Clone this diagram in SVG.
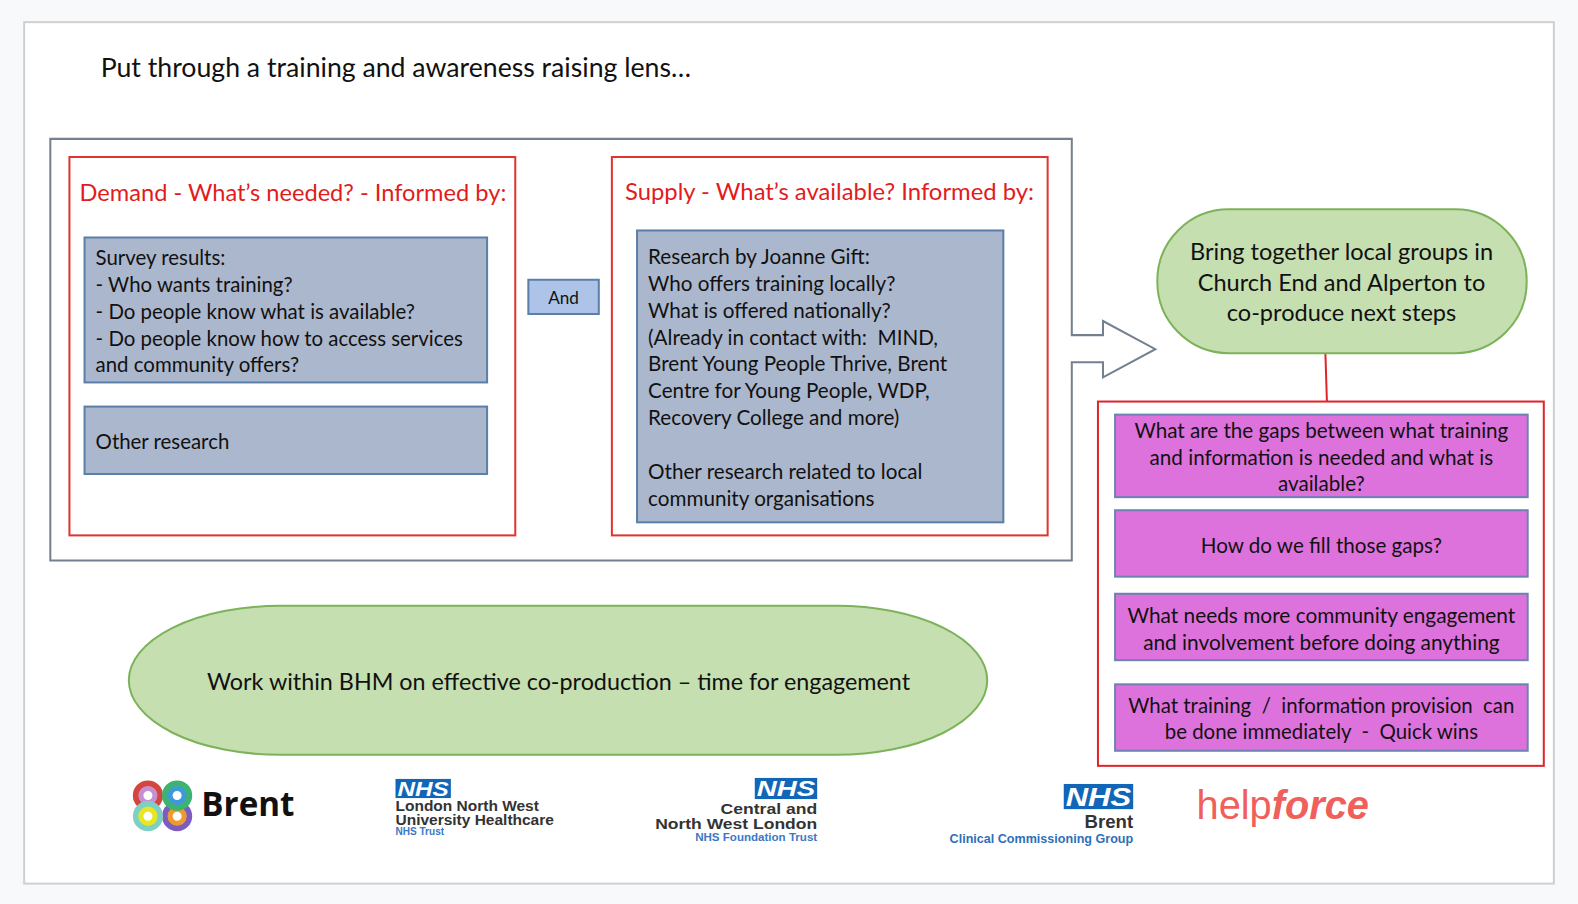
<svg xmlns="http://www.w3.org/2000/svg" width="1578" height="904" viewBox="0 0 1578 904">
<style>
text{font-family:"Lato","Open Sans","Liberation Sans",sans-serif;fill:#111;font-size:20.500px;white-space:pre}
.c{text-anchor:middle}
.e{text-anchor:end}
.red{fill:#e21c1c;font-size:23.700px}
.s{font-size:20.300px}
.q{font-size:20.500px}
.frame{fill:#fff;stroke:#e0342f;stroke-width:2}
.blue{fill:#abb7cd;stroke:#5b7fa8;stroke-width:2}
.pink{fill:#dd72dd;stroke:#6f81b0;stroke-width:2}
.green{fill:#c5dfb0;stroke:#7cb35a;stroke-width:2}
.nhs{fill:#1166b8}
.nt{fill:#fff;font-weight:900;font-style:italic;font-family:"Liberation Sans",sans-serif}
.lg{font-family:"Liberation Sans",sans-serif;font-weight:700;fill:#333}
.lb{font-family:"Liberation Sans",sans-serif;font-weight:700;fill:#3b78c4}
</style>
<rect width="1578" height="904" fill="#f8f9fa"/>
<g transform="scale(1.00638)">
<rect x="24" y="22" width="1520" height="856" fill="#fff" stroke="#d0d0d0" stroke-width="2"/>
<text id="title" x="100" y="77" style="font-size:26.500px">Put through a training and awareness raising lens…</text>

<g id="connectors">
<path d="M1317 351L1318.500 399" fill="none" stroke="#e0242a" stroke-width="2"/>
</g>

<g id="outer">
<path d="M1065 333V138H50V557H1065V360H1096V375L1148 347L1096 319V333Z" fill="#fff" stroke="#74808f" stroke-width="2"/>
</g>

<g id="demand">
<rect class="frame" x="69" y="156" width="443" height="376"/>
<text class="red" x="79" y="200" style="font-size:23.500px">Demand - What’s needed? - Informed by:</text>
</g>
<g id="survey">
<rect class="blue" x="84" y="236" width="400" height="144"/>
<text class="s" x="95" y="263">Survey results:</text>
<text class="s" x="95" y="290">- Who wants training?</text>
<text class="s" x="95" y="317">- Do people know what is available?</text>
<text class="s" x="95" y="344">- Do people know how to access services</text>
<text class="s" x="95" y="370">and community offers?</text>
</g>
<g id="other-research">
<rect class="blue" x="84" y="404" width="400" height="67"/>
<text class="s" x="95" y="446">Other research</text>
</g>
<g id="and">
<rect x="525" y="278" width="70" height="34" fill="#aec3e8" stroke="#5b7fa8" stroke-width="2"/>
<text class="c" x="560" y="302" style="font-size:17px">And</text>
</g>
<g id="supply">
<rect class="frame" x="608" y="156" width="433" height="376"/>
<text class="red" x="621" y="199">Supply - What’s available? Informed by:</text>
</g>
<g id="research">
<rect class="blue" x="633" y="229" width="364" height="290"/>
<text x="644" y="262">Research by Joanne Gift:</text>
<text x="644" y="289">Who offers training locally?</text>
<text x="644" y="316">What is offered nationally?</text>
<text x="644" y="343">(Already in contact with:  MIND,</text>
<text x="644" y="369">Brent Young People Thrive, Brent</text>
<text x="644" y="395">Centre for Young People, WDP,</text>
<text x="644" y="422">Recovery College and more)</text>
<text x="644" y="476">Other research related to local</text>
<text x="644" y="503">community organisations</text>
</g>
<g id="bring-together">
<rect class="green" x="1150" y="208" width="367" height="143" rx="71" ry="71"/>
<text class="c" x="1333" y="258" style="font-size:23.400px">Bring together local groups in</text>
<text class="c" x="1333" y="289" style="font-size:23.400px">Church End and Alperton to</text>
<text class="c" x="1333" y="319" style="font-size:23.400px">co-produce next steps</text>
</g>
<g id="questions">
<rect x="1091" y="399" width="443" height="362" fill="#fff" stroke="#e0242a" stroke-width="2"/>
</g>
<g id="q1">
<rect class="pink" x="1108" y="412" width="410" height="82"/>
<text class="c q" x="1313" y="435">What are the gaps between what training</text>
<text class="c q" x="1313" y="462">and information is needed and what is</text>
<text class="c q" x="1313" y="488">available?</text>
</g>
<g id="q2">
<rect class="pink" x="1108" y="507" width="410" height="66"/>
<text class="c q" x="1313" y="549">How do we fill those gaps?</text>
</g>
<g id="q3">
<rect class="pink" x="1108" y="590" width="410" height="66"/>
<text class="c" x="1313" y="619" style="font-size:20.700px">What needs more community engagement</text>
<text class="c" x="1313" y="646" style="font-size:20.700px">and involvement before doing anything</text>
</g>
<g id="q4">
<rect class="pink" x="1108" y="680" width="410" height="66"/>
<text class="c" x="1313" y="708" style="font-size:20.300px">What training  /  information provision  can</text>
<text class="c" x="1313" y="734" style="font-size:20.300px">be done immediately  -  Quick wins</text>
</g>
<g id="work-within">
<rect class="green" x="128" y="602" width="853" height="148" rx="150" ry="74"/>
<text class="c" x="555" y="686" style="font-size:23.200px">Work within BHM on effective co-production – time for engagement</text>
</g>

<g id="logo-brent">
<g fill="none">
<circle cx="176" cy="811" r="12" stroke="#7c5cc0" stroke-width="6"/>
<circle cx="176" cy="811" r="7" stroke="#ef9a2e" stroke-width="5"/>
<circle cx="147" cy="790.500" r="12" stroke="#d4453d" stroke-width="6"/>
<circle cx="147" cy="790.500" r="7" stroke="#c58fd0" stroke-width="5"/>
<circle cx="176" cy="790.500" r="12" stroke="#3cb371" stroke-width="6"/>
<circle cx="176" cy="790.500" r="7" stroke="#3d9ad6" stroke-width="5"/>
<circle cx="147" cy="811" r="12" stroke="#7fd0c4" stroke-width="6"/>
<circle cx="147" cy="811" r="7" stroke="#e8e620" stroke-width="5"/>
</g>
<text x="200" y="811" style="font-family:'Open Sans','Liberation Sans',sans-serif;font-weight:700;font-size:33px;fill:#111">Brent</text>
</g>
<g id="logo-lnwh">
<rect class="nhs" x="393" y="774" width="55" height="19"/>
<text class="nt" x="395" y="791" textLength="51" lengthAdjust="spacingAndGlyphs" style="font-size:20px">NHS</text>
<text class="lg" x="393" y="806" style="font-size:15.400px">London North West</text>
<text class="lg" x="393" y="820" style="font-size:15.400px">University Healthcare</text>
<text class="lb" x="393" y="830" style="font-size:10px">NHS Trust</text>
</g>
<g id="logo-cnwl">
<rect class="nhs" x="750" y="773" width="62" height="21"/>
<text class="nt" x="752" y="791" textLength="58" lengthAdjust="spacingAndGlyphs" style="font-size:22px">NHS</text>
<text class="lg e" x="812" y="809" textLength="96" lengthAdjust="spacingAndGlyphs" style="font-size:15.400px">Central and</text>
<text class="lg e" x="812" y="823.500" textLength="161" lengthAdjust="spacingAndGlyphs" style="font-size:15.400px">North West London</text>
<text class="lb e" x="812" y="836" style="font-size:11.500px">NHS Foundation Trust</text>
</g>
<g id="logo-ccg">
<rect class="nhs" x="1057" y="779" width="69" height="25"/>
<text class="nt" x="1059" y="801" textLength="65" lengthAdjust="spacingAndGlyphs" style="font-size:26px">NHS</text>
<text class="lg e" x="1126" y="823" style="font-size:18.500px">Brent</text>
<text class="lb e" x="1126" y="838" style="font-size:12.500px;fill:#2f6fb8">Clinical Commissioning Group</text>
</g>
<g id="logo-helpforce">
<text x="1189" y="814" style="font-family:'Liberation Sans',sans-serif;font-size:39.500px;fill:#f0605a">help<tspan style="font-weight:700;font-style:italic">force</tspan></text>
</g>
</g>
</svg>
